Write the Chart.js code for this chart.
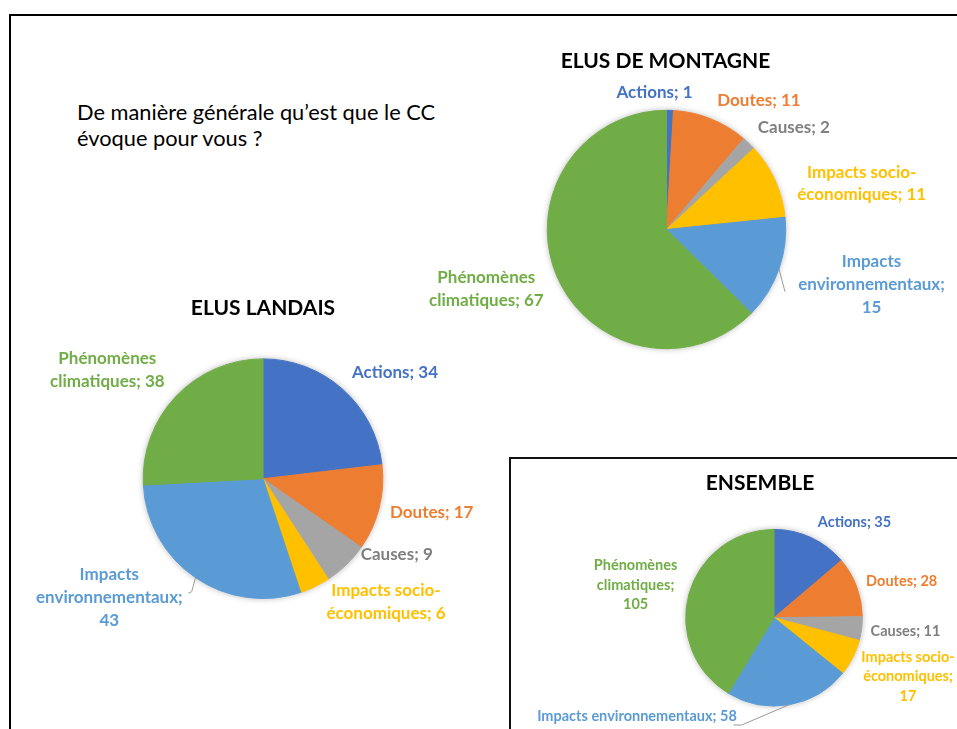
<!DOCTYPE html>
<html lang="fr">
<head>
<meta charset="utf-8">
<title>Le CC évoque pour vous</title>
<script src="https://cdn.jsdelivr.net/npm/chart.js@4.4.1/dist/chart.umd.min.js"></script>
<style>
  html, body { margin: 0; padding: 0; background: #fff; }
  body { width: 957px; height: 729px; position: relative; overflow: hidden; font-family: Lato, 'Open Sans', sans-serif; }
  #cadre { position: absolute; left: 9px; top: 14px; width: 980px; height: 760px; border-left: 2px solid #000; border-top: 2px solid #000; }
  #boite { position: absolute; left: 509px; top: 457px; width: 480px; height: 300px; border-left: 2px solid #111; border-top: 2px solid #111; }
  #question { position: absolute; left: 77px; top: 99px; font-size: 21.8px; line-height: 26px; color: #000; white-space: nowrap; }
  canvas { position: absolute; }
</style>
</head>
<body>
<div id="cadre"></div>
<div id="boite"></div>
<div id="question">De manière générale qu’est que le CC<br>évoque pour vous ?</div>
<canvas id="montagne"></canvas>
<canvas id="landais"></canvas>
<canvas id="ensemble"></canvas>

<script>
// Données
const categories = ['Actions', 'Doutes', 'Causes', 'Impacts socio-économiques', 'Impacts environnementaux', 'Phénomènes climatiques'];
const valeursMontagne = [1, 11, 2, 11, 15, 67];
const valeursLandais = [34, 17, 9, 6, 43, 38];
const valeursEnsemble = [35, 28, 11, 17, 58, 105];

// Couleurs (palette Office)
const couleurs = ['#4472C4', '#ED7D31', '#A5A5A5', '#FFC000', '#5B9BD5', '#70AD47'];
const couleursTexte = ['#4472C4', '#ED7D31', '#7F7F7F', '#FFC000', '#5B9BD5', '#70AD47'];

// Mise en page de chaque camembert : zone du canvas, centre et rayon du disque,
// position du titre et des étiquettes (décalages par rapport au centre)
const miseEnPage = {
    montagne: {
        titre: 'ELUS DE MONTAGNE',
        zone: { left: 410, top: 40, width: 547, height: 330 },
        centre: [666.5, 229.5], rayon: 119.7,
        titrePos: [-1, -168.5],
        taille: 17, interligne: 22.8,
        positions: [[-12, -137], [92.5, -128.5], [127.3, -101.8], [195.2, -46], [205, 55.3], [-180.2, 59.7]],
        largeurs: [Infinity, Infinity, Infinity, 135, 155, 120],
        rappels: [null, null, null, null, [[118.5, 62.2]], null]
    },
    landais: {
        titre: 'ELUS LANDAIS',
        zone: { left: 20, top: 290, width: 470, height: 345 },
        centre: [263, 478.7], rayon: 120.3,
        titrePos: [0, -170.7],
        taille: 17, interligne: 23,
        positions: [[132, -106.4], [168.7, 33.6], [133.7, 75.6], [123, 123.8], [-153.7, 118.7], [-155.7, -108.4]],
        largeurs: [Infinity, Infinity, Infinity, 135, 155, 120],
        rappels: [null, null, null, null, [[-71.3, 113], [-74.7, 114.6]], null]
    },
    ensemble: {
        titre: 'ENSEMBLE',
        zone: { left: 512, top: 460, width: 445, height: 269 },
        centre: [774, 617.7], rayon: 88.8,
        titrePos: [-14, -134.7],
        taille: 14.5, interligne: 19.8,
        positions: [[80.5, -95.4], [127.7, -36.7], [131.5, 14], [134, 59], [-137, 99], [-138.4, -32.7]],
        largeurs: [Infinity, Infinity, Infinity, 100, Infinity, 90],
        rappels: [null, null, null, null, [[-32.3, 107.3], [-40.7, 107.3]], null]
    }
};

// Découpe une étiquette en lignes selon une largeur maximale
function couper(ctx, texte, largeur) {
    const morceaux = texte.match(/[^\s-]+(-|\s+)?/g);
    const lignes = [];
    let ligne = '';
    morceaux.forEach(m => {
        if (ligne && ctx.measureText((ligne + m).trimEnd()).width > largeur) {
            lignes.push(ligne.trimEnd());
            ligne = m;
        } else {
            ligne += m;
        }
    });
    lignes.push(ligne.trimEnd());
    return lignes;
}

// Plugin : ombre sous le disque, titre, étiquettes et traits de rappel
const etiquettes = {
    id: 'etiquettes',
    beforeDatasetsDraw(chart) {
        const arc = chart.getDatasetMeta(0).data[0];
        const ctx = chart.ctx;
        ctx.save();
        ctx.shadowColor = 'rgba(0, 0, 0, 0.3)';
        ctx.shadowBlur = 6;
        ctx.fillStyle = '#fff';
        ctx.beginPath();
        ctx.arc(arc.x, arc.y, arc.outerRadius, 0, Math.PI * 2);
        ctx.fill();
        ctx.restore();
    },
    afterDatasetsDraw(chart) {
        const cfg = miseEnPage[chart.canvas.id];
        const ctx = chart.ctx;
        const arcs = chart.getDatasetMeta(0).data;
        const valeurs = chart.data.datasets[0].data;
        const cx = arcs[0].x, cy = arcs[0].y;

        ctx.save();
        ctx.textAlign = 'center';
        ctx.textBaseline = 'middle';

        // titre
        ctx.font = 'bold 21px Lato';
        ctx.fillStyle = '#000';
        ctx.fillText(cfg.titre, cx + cfg.titrePos[0], cy + cfg.titrePos[1]);

        // étiquettes de données
        ctx.font = `bold ${cfg.taille}px Lato`;
        arcs.forEach((arc, i) => {
            const lignes = couper(ctx, `${chart.data.labels[i]}; ${valeurs[i]}`, cfg.largeurs[i]);
            const [dx, dy] = cfg.positions[i];
            ctx.fillStyle = couleursTexte[i];
            lignes.forEach((l, k) => {
                ctx.fillText(l, cx + dx, cy + dy + (k - (lignes.length - 1) / 2) * cfg.interligne);
            });

            if (cfg.rappels[i]) {
                const milieu = (arc.startAngle + arc.endAngle) / 2;
                ctx.strokeStyle = '#9a9a9a';
                ctx.lineWidth = 1;
                ctx.beginPath();
                ctx.moveTo(cx + Math.cos(milieu) * arc.outerRadius, cy + Math.sin(milieu) * arc.outerRadius);
                cfg.rappels[i].forEach(p => ctx.lineTo(cx + p[0], cy + p[1]));
                ctx.stroke();
            }
        });
        ctx.restore();
    }
};

function creerCamembert(id, valeurs) {
    const cfg = miseEnPage[id];
    const z = cfg.zone;
    const canvas = document.getElementById(id);
    canvas.width = z.width;
    canvas.height = z.height;
    canvas.style.left = z.left + 'px';
    canvas.style.top = z.top + 'px';

    // la zone du graphique est le carré qui entoure le disque
    const padding = {
        left: cfg.centre[0] - cfg.rayon - z.left,
        right: z.left + z.width - (cfg.centre[0] + cfg.rayon),
        top: cfg.centre[1] - cfg.rayon - z.top,
        bottom: z.top + z.height - (cfg.centre[1] + cfg.rayon)
    };

    return new Chart(canvas, {
        type: 'pie',
        data: {
            labels: categories,
            datasets: [{
                data: valeurs,
                backgroundColor: couleurs,
                borderColor: couleurs,
                borderWidth: 1
            }]
        },
        options: {
            responsive: false,
            animation: false,
            layout: { padding: padding },
            plugins: {
                legend: { display: false },
                tooltip: { enabled: false },
                title: { display: false }
            }
        },
        plugins: [etiquettes]
    });
}

creerCamembert('montagne', valeursMontagne);
creerCamembert('landais', valeursLandais);
creerCamembert('ensemble', valeursEnsemble);
</script>
</body>
</html>
